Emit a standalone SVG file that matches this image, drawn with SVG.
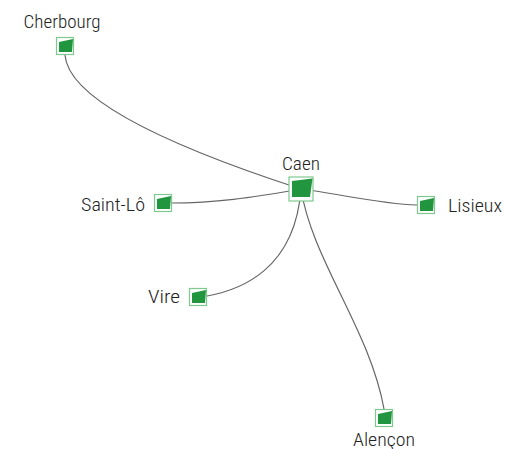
<svg xmlns="http://www.w3.org/2000/svg" width="505" height="449" viewBox="0 0 505 449">
<style>
.edge{fill:none;stroke:#666;stroke-width:1.2}
.box{fill:#fff;stroke:#7fc88f;stroke-width:1.2}
.in{fill:#22963f}
.lbl{font-family:"Roboto Condensed","Liberation Sans Narrow",Roboto,sans-serif;font-size:18px;font-weight:300;fill:#222}
</style>
<rect width="505" height="449" fill="#fff"/>
<g id="connectors">
<path class="edge" d="M65,55 C68,95 150,140 301,189"/>
<path class="edge" d="M172,203 C215,203 250,198 301,189"/>
<path class="edge" d="M301,189 C340,194 380,204 417,205"/>
<path class="edge" d="M207,296 C240,290 295,270 301,189"/>
<path class="edge" d="M301,189 C312,260 370,330 384,409"/>
</g>
<g id="cherbourg">
<rect class="box" x="56.5" y="37.5" width="17" height="17"/>
<polygon class="in" points="59,42 73,39 72,52 59,52"/>
<text class="lbl" x="62" y="28" text-anchor="middle" textLength="77" lengthAdjust="spacingAndGlyphs">Cherbourg</text>
</g>
<g id="caen">
<rect class="box" x="289" y="177" width="24" height="24"/>
<polygon class="in" points="292,181 312.5,178.5 310,197 292,197"/>
<text class="lbl" x="301" y="170" text-anchor="middle" textLength="38" lengthAdjust="spacingAndGlyphs">Caen</text>
</g>
<g id="saint-lo">
<rect class="box" x="154.5" y="194.5" width="17" height="17"/>
<polygon class="in" points="157,199 171,196 170,209 157,209"/>
<text class="lbl" x="145" y="211" text-anchor="end" textLength="64" lengthAdjust="spacingAndGlyphs">Saint-Lô</text>
</g>
<g id="lisieux">
<rect class="box" x="417.5" y="196.5" width="17" height="17"/>
<polygon class="in" points="420,201 434,198 433,211 420,211"/>
<text class="lbl" x="448" y="212" textLength="54" lengthAdjust="spacingAndGlyphs">Lisieux</text>
</g>
<g id="vire">
<rect class="box" x="189.5" y="288.5" width="17" height="17"/>
<polygon class="in" points="192,293 206,290 205,303 192,303"/>
<text class="lbl" x="180" y="303" text-anchor="end" textLength="32" lengthAdjust="spacingAndGlyphs">Vire</text>
</g>
<g id="alencon">
<rect class="box" x="375.5" y="409.5" width="17" height="17"/>
<polygon class="in" points="378,414 392,411 391,424 378,424"/>
<text class="lbl" x="384" y="446" text-anchor="middle" textLength="62" lengthAdjust="spacingAndGlyphs">Alençon</text>
</g>
</svg>
